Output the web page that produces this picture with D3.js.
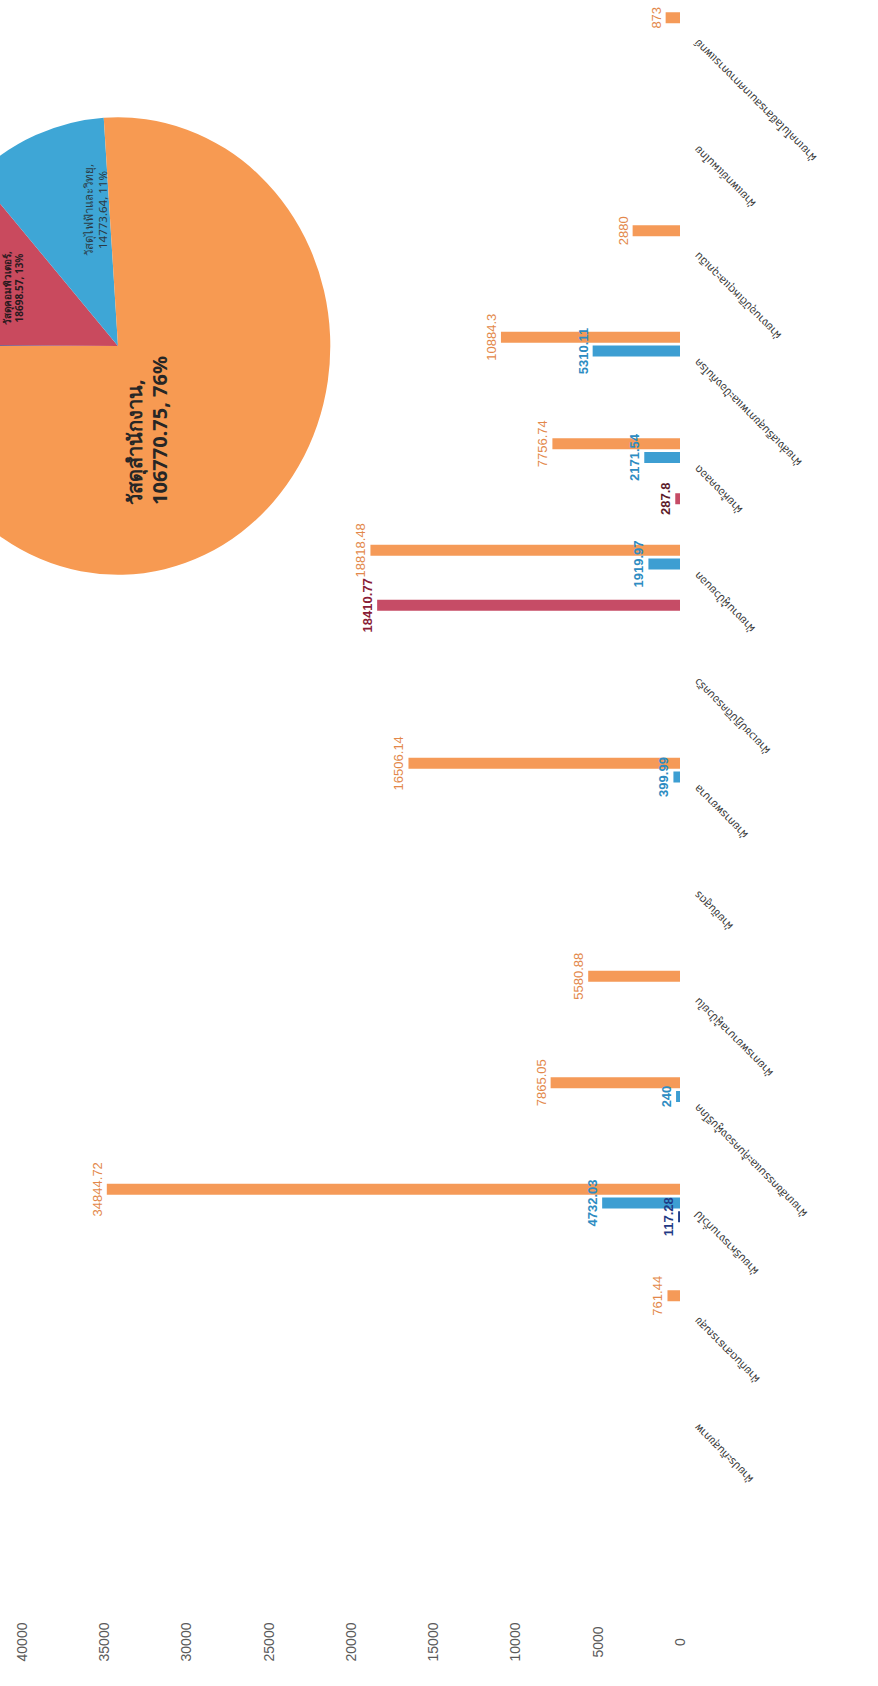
<!DOCTYPE html>
<html>
<head>
<meta charset="utf-8">
<script src="https://cdn.jsdelivr.net/npm/d3@7"></script>
<style>
  html, body { margin: 0; padding: 0; background: #ffffff; }
  svg { display: block; }
</style>
</head>
<body>
<svg id="chart" width="878" height="1686"></svg>
<script>
// ---------- data (category order = original left-to-right) ----------
const categories = [
  "ฝ่ายประกันสุขภาพ",
  "ฝ่ายทันตสาธารณสุข",
  "ฝ่ายบริหารงานทั่วไป",
  "ฝ่ายเภสัชกรรมและคุ้มครองผู้บริโภค",
  "ฝ่ายการพยาบาลผู้ป่วยใน",
  "ฝ่ายชันสูตร",
  "ฝ่ายการพยาบาล",
  "ฝ่ายเวชปฏิบัติครอบครัว",
  "ฝ่ายงานผู้ป่วยนอก",
  "ฝ่ายห้องคลอด",
  "ฝ่ายส่งเสริมสุขภาพและป้องกันโรค",
  "ฝ่ายงานอุบัติเหตุและฉุกเฉิน",
  "ฝ่ายแพทย์แผนไทย",
  "ฝ่ายเทคโนโลยีสารสนเทศทางการแพทย์"
];
const seriesNames = ["วัสดุคอมพิวเตอร์", "วัสดุอื่น ๆ", "วัสดุงานบ้านงานครัว", "วัสดุไฟฟ้าและวิทยุ", "วัสดุสำนักงาน"];
const crimsonValues = [null, null, null, null, null, null, null, null, 18410.77, 287.8, null, null, null, null];
const otherValues   = [null, null, null, null, null, null, null, null, null, null, null, null, null, null];
const navyValues    = [null, null, 117.28, null, null, null, null, null, null, null, null, null, null, null];
const blueValues    = [null, null, 4732.03, 240, null, null, 399.99, null, 1919.97, 2171.54, 5310.11, null, null, null];
const orangeValues  = [null, 761.44, 34844.72, 7865.05, 5580.88, null, 16506.14, null, 18818.48, 7756.74, 10884.3, 2880, null, 873];
const valueTicks = [0, 5000, 10000, 15000, 20000, 25000, 30000, 35000, 40000];

const seriesValues = [crimsonValues, otherValues, navyValues, blueValues, orangeValues];
const barColors   = ["#c64c66", "#8064a2", "#22408c", "#3d9ed2", "#f59a58"];
const labelColors = ["#8a1d36", "#5e4a80", "#1f3a85", "#2d8cc2", "#e3884a"];
const labelWeights = ["bold", "bold", "bold", "600", "normal"];
const pieColors = {"วัสดุคอมพิวเตอร์": "#c94a5e", "วัสดุงานบ้านงานครัว": "#22408c", "วัสดุไฟฟ้าและวิทยุ": "#3ea6d6", "วัสดุสำนักงาน": "#f79a52"};
const pieOrder = ["วัสดุงานบ้านงานครัว", "วัสดุคอมพิวเตอร์", "วัสดุไฟฟ้าและวิทยุ", "วัสดุสำนักงาน"];

// ---------- layout (chart drawn in landscape, then turned) ----------
const W = 1686, H = 878;
const svg = d3.select("#chart");
const g = svg.append("g").attr("transform", `translate(0,${W}) rotate(-90)`);

const x = d3.scaleBand().domain(categories).range([203, 1694]).padding(0);
const xs = d3.scaleBand().domain(seriesNames).range([-33, 33]).paddingInner(0.2);
const y = d3.scaleLinear().domain([0, 40000]).range([680, 22]);

// value axis labels
const yAxis = d3.axisLeft(y).tickValues(valueTicks).tickSize(0).tickPadding(0).tickFormat(d3.format("d"));
const ya = g.append("g").attr("transform", "translate(44,0)").call(yAxis);
ya.select(".domain").remove();
ya.selectAll("text")
  .attr("text-anchor", "middle").attr("x", 0)
  .attr("font-family", "Liberation Sans, Arial, sans-serif")
  .attr("font-size", 14).attr("fill", "#5a5a5a");

// category axis labels
const xAxis = d3.axisBottom(x).tickSize(0).tickPadding(0);
const xa = g.append("g").attr("transform", "translate(0,692)").call(xAxis);
xa.select(".domain").remove();
xa.selectAll("text")
  .attr("text-anchor", "end")
  .attr("font-family", "Noto Sans, Noto Sans Thai, Loma, sans-serif")
  .attr("font-size", 11).attr("fill", "#3a3a3a")
  .attr("y", 0).attr("dy", "0.35em")
  .attr("transform", "translate(4,4) rotate(-45)");

// bars
const barLayer = g.append("g");
const labelLayer = g.append("g");
seriesNames.forEach((s, si) => {
  const rows = categories.map((c, i) => ({c, v: seriesValues[si][i]})).filter(d => d.v != null);
  barLayer.append("g").selectAll("rect").data(rows).join("rect")
    .attr("x", d => x(d.c) + x.bandwidth() / 2 + xs(s))
    .attr("width", xs.bandwidth())
    .attr("y", d => y(d.v))
    .attr("height", d => Math.max(1.5, y(0) - y(d.v)))
    .attr("fill", barColors[si]);
  labelLayer.append("g").selectAll("text").data(rows).join("text")
    .attr("x", d => x(d.c) + x.bandwidth() / 2 + xs(s) + xs.bandwidth() / 2)
    .attr("y", d => y(d.v) - 5)
    .attr("text-anchor", "middle")
    .attr("font-family", "Liberation Sans, Arial, sans-serif")
    .attr("font-size", 13)
    .attr("font-weight", labelWeights[si])
    .attr("fill", d => (si === 0 && d.v < 1000) ? "#5b1a2a" : labelColors[si])
    .text(d => d.v);
});

// pie of series totals
const totals = pieOrder.map(name => {
  const arr = seriesValues[seriesNames.indexOf(name)];
  return {name, value: +d3.sum(arr, v => v || 0).toFixed(2)};
});
const grand = d3.sum(totals, d => d.value);
const pie = d3.pie().sort(null).value(d => d.value);
const arc = d3.arc().innerRadius(0).outerRadius(220);
const pg = g.append("g").attr("transform", "translate(1340,118) scale(1.04,0.965)");
pg.selectAll("path").data(pie(totals)).join("path")
  .attr("d", arc).attr("fill", d => pieColors[d.data.name]);

const fmtPct = v => Math.round(v / grand * 100) + "%";
const tOrange = totals.find(d => d.name === "วัสดุสำนักงาน");
const tBlue = totals.find(d => d.name === "วัสดุไฟฟ้าและวิทยุ");
const tCrim = totals.find(d => d.name === "วัสดุคอมพิวเตอร์");

const lo = g.append("text").attr("font-family", "Noto Sans, DejaVu Sans, sans-serif")
  .attr("font-size", 20).attr("font-weight", "bold").attr("fill", "#262626");
lo.append("tspan").attr("x", 1181).attr("y", 142).text(tOrange.name + ",");
lo.append("tspan").attr("x", 1181).attr("y", 167).text(tOrange.value + ", " + fmtPct(tOrange.value));

const lb = g.append("text").attr("font-family", "Noto Sans, DejaVu Sans, sans-serif")
  .attr("font-size", 11.5).attr("fill", "#2b3a44").attr("text-anchor", "middle");
lb.append("tspan").attr("x", 1476).attr("y", 93).text(tBlue.name + ",");
lb.append("tspan").attr("x", 1476).attr("y", 107).text(tBlue.value + ", " + fmtPct(tBlue.value));

const lc = g.append("text").attr("font-family", "Noto Sans, DejaVu Sans, sans-serif")
  .attr("font-size", 10).attr("font-weight", "bold").attr("fill", "#2a1a1e").attr("text-anchor", "middle");
lc.append("tspan").attr("x", 1398).attr("y", 11).text(tCrim.name + ",");
lc.append("tspan").attr("x", 1398).attr("y", 23).text(tCrim.value + ", " + fmtPct(tCrim.value));
</script>
</body>
</html>
